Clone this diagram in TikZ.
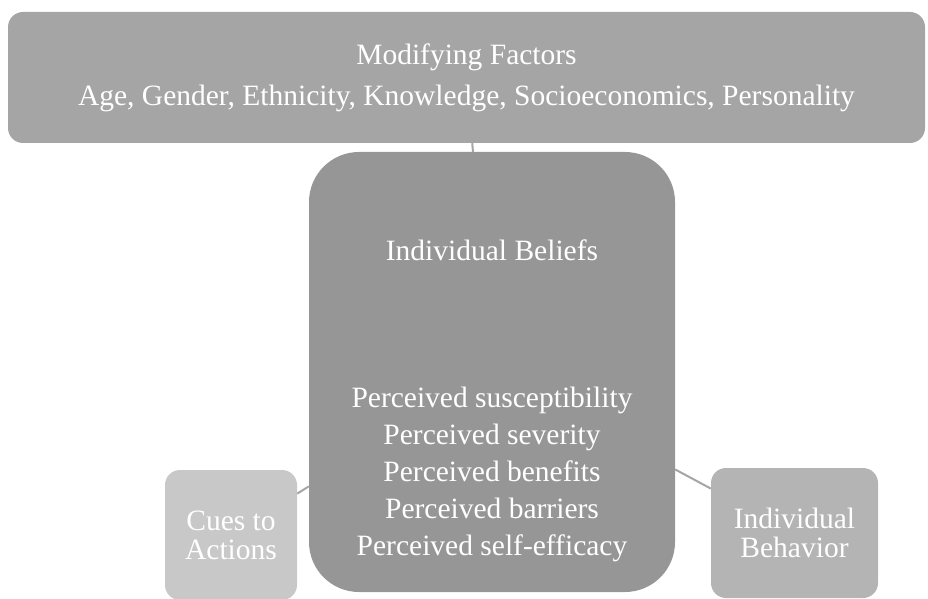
\documentclass[tikz,border=0pt]{standalone}
\usepackage{fontspec}
\setmainfont{Liberation Serif}
\usepackage{tikz}

\definecolor{factorgray}{HTML}{A5A5A5}
\definecolor{beliefgray}{HTML}{969696}
\definecolor{cuegray}{HTML}{C8C8C8}
\definecolor{behavgray}{HTML}{B4B4B4}

\tikzset{
  box/.style={rounded corners=15pt, text=white, align=center, inner sep=0pt},
  link/.style={draw=factorgray, line width=2pt}
}

\begin{document}
\begin{tikzpicture}[x=1pt, y=1pt]
      \useasboundingbox (0, 0) rectangle (928, 598);

      \node [box, fill=factorgray, minimum width=917pt, minimum height=131pt, font=\fontsize{29.5}{41}\selectfont]
        (factors) at (466.5, 520.5) {Modifying Factors\\Age, Gender, Ethnicity, Knowledge, Socioeconomics, Personality};

      \node [box, fill=beliefgray, rounded corners=50pt, minimum width=366pt, minimum height=440pt] (beliefs) at (492, 226) {};
      \node [text=white, font=\fontsize{29.5}{37}\selectfont] (beliefstitle) at (492, 348) {Individual Beliefs};
      \node [text=white, align=center, font=\fontsize{29.5}{37}\selectfont] (beliefslist) at (492, 124)
        {Perceived susceptibility\\Perceived severity\\Perceived benefits\\Perceived barriers\\Perceived self-efficacy};

      \node [box, fill=cuegray, minimum width=132pt, minimum height=130pt, font=\fontsize{29.5}{29}\selectfont]
        (cues) at (231, 63) {Cues to\\Actions};
      \node [box, fill=behavgray, minimum width=167pt, minimum height=130pt, font=\fontsize{29.5}{29}\selectfont]
        (behavior) at (794.5, 65) {Individual\\Behavior};

      \draw [link] (factors) -- (beliefs);
      \draw [link] (cues) -- (beliefs);
      \draw [link] (beliefs) -- (behavior);
    \end{tikzpicture}
\end{document}
